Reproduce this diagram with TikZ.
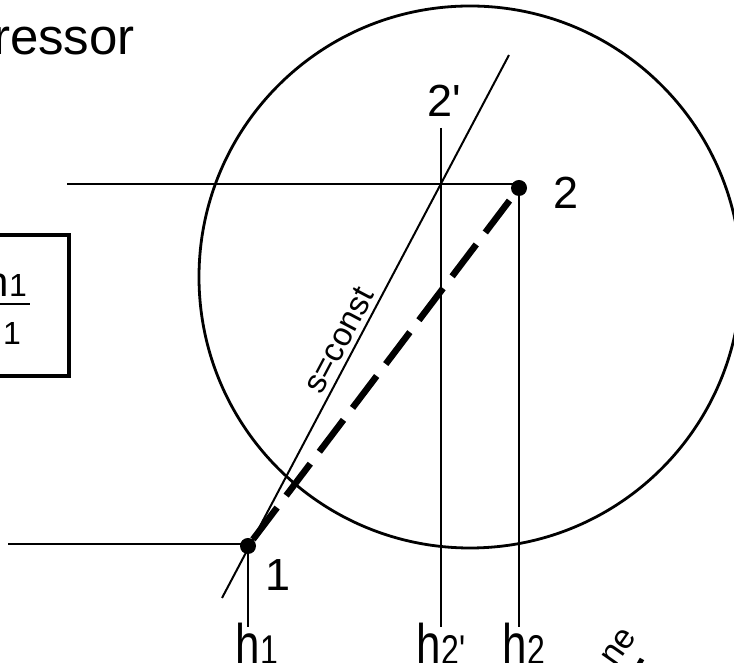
\documentclass[tikz,border=0pt]{standalone}
\usepackage{fontspec}
\setmainfont{Liberation Sans}
\newcommand{\sbs}[1]{{\fontsize{32}{32}\selectfont #1}}
\newcommand{\prm}{\textquotesingle}
\tikzset{
  big/.style={font=\fontsize{45}{45}\selectfont},
  hlabel/.style={font=\fontsize{44}{44}\selectfont, anchor=base, inner sep=0pt, yscale=1.3, transform shape},
  dot/.style={circle, fill, inner sep=0pt, minimum size=16pt},
  thinline/.style={line width=2pt},
  midline/.style={line width=2.8pt},
}
\begin{document}
\begin{tikzpicture}[x=1pt,y=1pt]
	\useasboundingbox (0,0) rectangle (734,663);
	\clip (0,0) rectangle (734,663);
	\node[anchor=base east, inner sep=0pt, font=\fontsize{51}{51}\selectfont] (title) at (135,608) {ressor};
	% formula box
	\draw[line width=3.2pt] (-20,428) rectangle (69,287);
	\node[anchor=base east, inner sep=0pt, font=\fontsize{42}{42}\selectfont] (num) at (27,366) {h\sbs{2\prm}$-$h\sbs{1}};
	\node[anchor=base east, inner sep=0pt, font=\fontsize{42}{42}\selectfont] (den) at (21,318) {h\sbs{2}$-$h\sbs{1}};
	\draw[line width=2.4pt] (-10,359) -- (30,359);
	% process circle
	\draw[midline] (470,386) circle (271);
	% state points
	\node[dot] (p1) at (248,117) {};
	\node[dot] (p2) at (519,475) {};
	\coordinate (l1) at (8,119);
	\coordinate (l2) at (67,479);
	\coordinate (t2s) at (441,535);
	\coordinate (sa) at (222,65);
	\coordinate (sb) at (509,608);
	\draw[midline] (l1) -- (l1 -| p1);
	\draw[midline] (l2) -- (l2 -| p2);
	\draw[midline] (p1) -- (p1 |- 0,36);
	\draw[midline] (t2s) -- (t2s |- 0,36);
	\draw[midline] (p2) -- (p2 |- 0,36);
	\draw[thinline] (sa) -- node[pos=0.46, sloped, above, inner sep=5pt, font=\fontsize{33}{33}\selectfont] (slbl) {s=const} (sb);
	\draw[line width=6.5pt, dash pattern=on 40pt off 15pt] (p1) -- (p2);
	% labels
	\node[big] (n1) at (278,88) {1};
	\node[big] (n2) at (566,470) {2};
	\node[big] (n2s) at (444,562) {2\prm};
	\node[hlabel] (h1) at (257,-2) {h\sbs{1}};
	\node[hlabel] (h2s) at (441,-2) {h\sbs{2\prm}};
	\node[hlabel] (h2) at (524,-2) {h\sbs{2}};
	\node[rotate=55, font=\fontsize{34}{34}\selectfont] (ln) at (619,16) {ne};
	\draw[line width=5pt] (638,-3) -- (642,4);
\end{tikzpicture}
\end{document}
